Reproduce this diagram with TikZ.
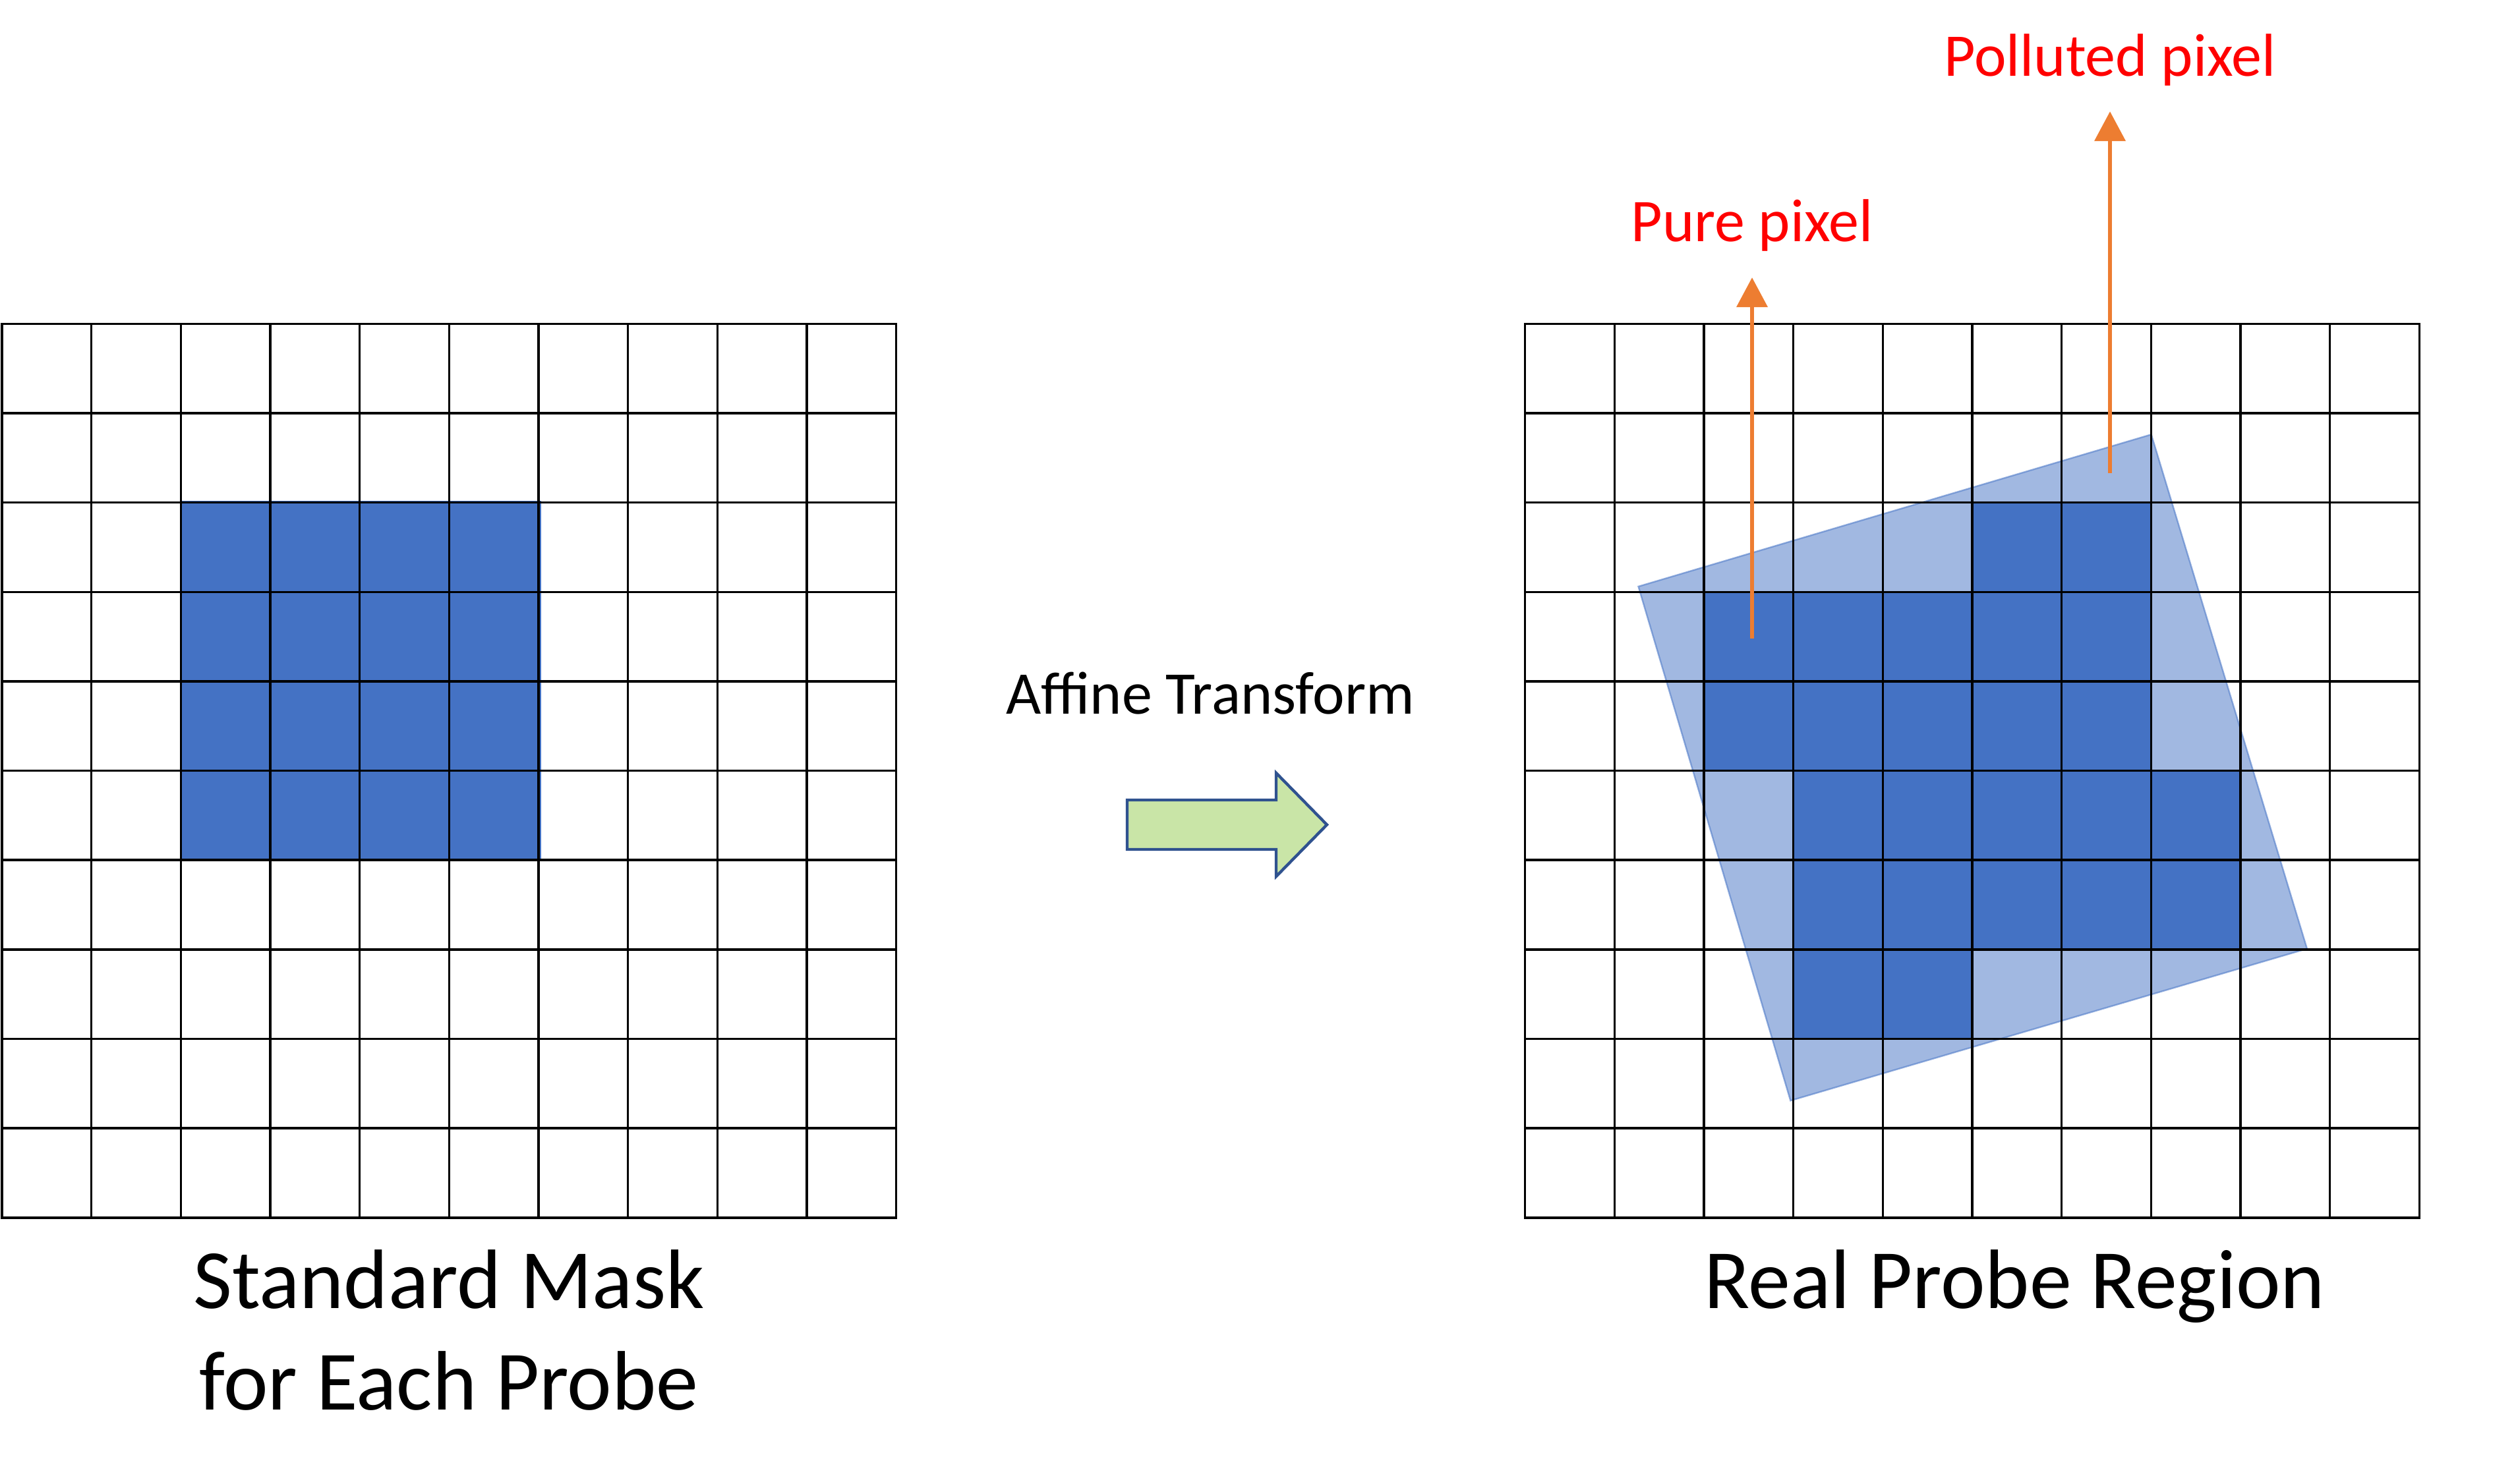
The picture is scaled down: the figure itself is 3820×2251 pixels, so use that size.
\documentclass[tikz,border=0pt]{standalone}
\usepackage{fontspec}
\setmainfont{Carlito}
\usetikzlibrary{arrows.meta}
\definecolor{cellblue}{HTML}{4472C4}
\definecolor{arrorange}{HTML}{ED7D31}
\definecolor{arrgreen}{RGB}{201,229,167}
\definecolor{arrblue}{HTML}{2F528F}
\definecolor{labelred}{HTML}{FF0000}
\begin{document}
\begin{tikzpicture}[x=0.25pt,y=-0.25pt,
  gridline/.style={line width=0.85pt,black,line cap=rect},
  darkcell/.style={fill=cellblue},
  probearea/.style={fill=cellblue,fill opacity=0.5,draw=cellblue,draw opacity=0.55,line width=0.6pt},
  blockarrow/.style={fill=arrgreen,draw=arrblue,line width=1.1pt,line join=miter},
  pointer/.style={draw=arrorange,line width=1.7pt,-{Triangle[width=11.5pt,length=11.25pt]}},
  redlabel/.style={text=labelred,anchor=base,inner sep=0pt,font=\fontsize{23}{27}\selectfont},
  caption/.style={anchor=base,inner sep=0pt,font=\fontsize{32}{38.5}\selectfont},
  midlabel/.style={anchor=base,inner sep=0pt,font=\fontsize{23}{27}\selectfont}]
\useasboundingbox (0,0) rectangle (3820,2251);
\def\cs{135.66}
\def\gy{491.2}
\def\lx{3}
\def\rx{2313.7}
% ---- left grid: standard mask ----
\fill[darkcell] ({\lx+2*\cs},{\gy+2*\cs-3}) rectangle ({\lx+6*\cs+4},{\gy+6*\cs});
\foreach \i in {0,...,10}{
  \draw[gridline] ({\lx+\i*\cs},\gy) -- ({\lx+\i*\cs},{\gy+10*\cs});
  \draw[gridline] (\lx,{\gy+\i*\cs}) -- ({\lx+10*\cs},{\gy+\i*\cs});
}
% ---- right grid: real probe region ----
\fill[probearea] (3263.6,659.3) -- (2485.5,890) -- (2716.3,1670.2) -- (3499.9,1439.6) -- cycle;
\foreach \c/\r in {5/2,6/2, 2/3,3/3,4/3,5/3,6/3, 2/4,3/4,4/4,5/4,6/4,
                   3/5,4/5,5/5,6/5,7/5, 3/6,4/6,5/6,6/6,7/6, 3/7,4/7}{
  \fill[darkcell] ({\rx+\c*\cs},{\gy+\r*\cs}) rectangle ({\rx+(\c+1)*\cs},{\gy+(\r+1)*\cs});
}
\foreach \i in {0,...,10}{
  \draw[gridline] ({\rx+\i*\cs},\gy) -- ({\rx+\i*\cs},{\gy+10*\cs});
  \draw[gridline] (\rx,{\gy+\i*\cs}) -- ({\rx+10*\cs},{\gy+\i*\cs});
}
% ---- block arrow ----
\draw[blockarrow] (1710,1214) -- (1936,1214) -- (1936,1173) -- (2013,1251.5)
  -- (1936,1330) -- (1936,1289) -- (1710,1289) -- cycle;
\node[midlabel] (affine) at (1836,1083) {Affine Transform};
% ---- pointers ----
\coordinate (pureS) at (2658,969);
\coordinate (pureE) at (2658,421);
\coordinate (polS) at (3201,718);
\coordinate (polE) at (3201,169);
\draw[pointer] (pureS) -- (pureE);
\draw[pointer] (polS) -- (polE);
\node[redlabel] (pure) at (2658,366) {Pure pixel};
\node[redlabel] (polluted) at (3201,115) {Polluted pixel};
% ---- captions ----
\node[caption] (std1) at (681,1985) {Standard Mask};
\node[caption] (std2) at (681,2139) {for Each Probe};
\node[caption] (real) at (3056,1985) {Real Probe Region};
\end{tikzpicture}
\end{document}
